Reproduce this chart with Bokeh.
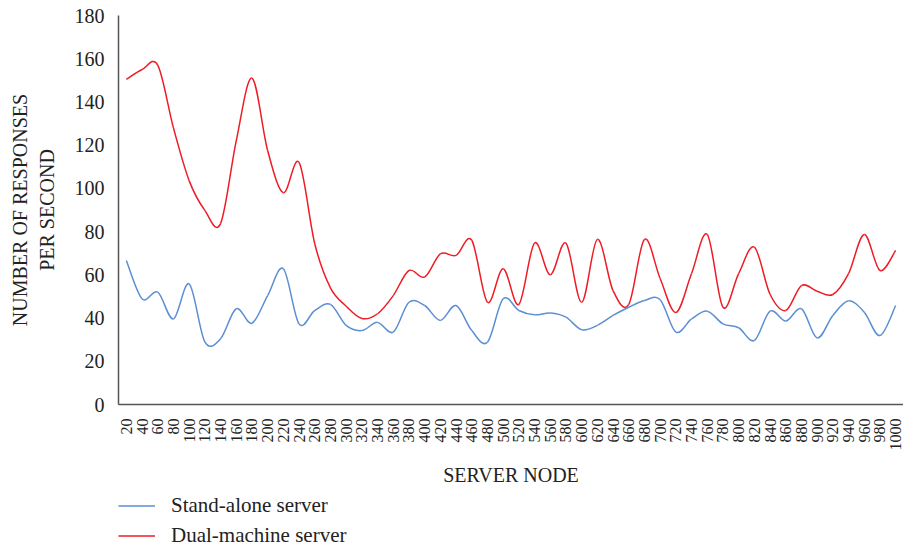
import math
from bokeh.plotting import figure
from bokeh.layouts import column
from bokeh.models import Range1d, FixedTicker, Legend, LegendItem
from bokeh.embed import file_html
from bokeh.resources import INLINE

nodes = list(range(20, 1001, 20))
stand_alone = [66.6, 48.9, 52.0, 39.6, 55.8, 29.0, 30.4, 44.3, 37.6, 50.4,
               62.8, 37.3, 43.5, 46.3, 36.6, 34.2, 38.0, 33.5, 47.3, 45.8,
               38.9, 45.8, 34.2, 28.8, 48.9, 43.5, 41.5, 42.3, 40.4, 34.6,
               36.6, 41.2, 45.0, 48.1, 48.5, 33.5, 39.6, 43.2, 37.3, 35.5,
               29.6, 43.2, 38.6, 44.3, 30.8, 41.2, 48.0, 42.7, 31.9, 45.8]
dual_machine = [150.4, 155.0, 157.0, 128.0, 103.6, 89.8, 83.7, 122.0, 151.0, 117.5,
                98.0, 112.0, 74.4, 54.0, 45.5, 39.8, 42.0, 50.4, 62.0, 59.0,
                69.7, 69.0, 76.0, 47.3, 62.8, 46.3, 74.7, 60.0, 74.7, 47.3,
                76.4, 52.7, 46.3, 76.4, 58.3, 42.6, 60.6, 78.7, 45.0, 60.6,
                72.8, 51.0, 43.5, 55.0, 52.4, 50.9, 60.6, 78.7, 62.0, 71.3]
y_ticks = list(range(0, 181, 20))
series_names = ["Stand-alone server", "Dual-machine server"]

FONT = "Liberation Serif"
BLUE = "#5B8ED3"
RED = "#EE1C25"
TEXT = "#222222"


def smooth_segments(xs, ys):
    n = len(xs)
    d = dict(x0=[], y0=[], x1=[], y1=[], cx0=[], cy0=[], cx1=[], cy1=[])
    for i in range(n - 1):
        xm, ym = (xs[i - 1], ys[i - 1]) if i > 0 else (xs[i], ys[i])
        xp, yp = (xs[i + 2], ys[i + 2]) if i + 2 < n else (xs[i + 1], ys[i + 1])
        d["x0"].append(xs[i]); d["y0"].append(ys[i])
        d["x1"].append(xs[i + 1]); d["y1"].append(ys[i + 1])
        d["cx0"].append(xs[i] + (xs[i + 1] - xm) / 6.0)
        d["cy0"].append(ys[i] + (ys[i + 1] - ym) / 6.0)
        d["cx1"].append(xs[i + 1] - (xp - xs[i]) / 6.0)
        d["cy1"].append(ys[i + 1] - (yp - ys[i]) / 6.0)
    return d


p = figure(width=903, height=490, output_backend="svg", toolbar_location=None,
           x_range=Range1d(10, 1010), y_range=Range1d(0, 180),
           min_border_left=118, min_border_right=0, min_border_top=15,
           min_border_bottom=86)
p.outline_line_color = None
p.grid.visible = False

p.bezier(line_color=BLUE, line_width=1.5, **smooth_segments(nodes, stand_alone))
p.bezier(line_color=RED, line_width=1.5, **smooth_segments(nodes, dual_machine))

p.xaxis.ticker = FixedTicker(ticks=nodes)
p.xaxis.major_label_orientation = math.pi / 2
p.yaxis.ticker = FixedTicker(ticks=y_ticks)

for ax in (p.xaxis[0], p.yaxis[0]):
    ax.axis_line_color = "#555555"
    ax.axis_line_width = 1.5
    ax.major_tick_line_color = None
    ax.minor_tick_line_color = None
    ax.major_label_text_font = FONT
    ax.major_label_text_color = TEXT
    ax.axis_label_text_font = FONT
    ax.axis_label_text_font_style = "normal"
    ax.axis_label_text_color = TEXT

p.xaxis.major_label_text_font_size = "16px"
p.yaxis.major_label_text_font_size = "20px"
p.xaxis.major_label_standoff = 8
p.yaxis.major_label_standoff = 8
p.xaxis.axis_label = "SERVER NODE"
p.yaxis.axis_label = "NUMBER OF RESPONSES\nPER SECOND"
p.xaxis.axis_label_text_font_size = "20px"
p.yaxis.axis_label_text_font_size = "20px"
p.xaxis.axis_label_standoff = 10
p.yaxis.axis_label_standoff = 14

# legend strip below the chart (key lines lie outside this strip's ranges)
lg = figure(width=903, height=58, output_backend="svg", toolbar_location=None,
            x_range=Range1d(0, 1), y_range=Range1d(0, 1),
            min_border=0)
lg.axis.visible = False
lg.grid.visible = False
lg.outline_line_color = None
k_blue = lg.line(x=nodes, y=stand_alone, line_color=BLUE, line_width=1.5)
k_red = lg.line(x=nodes, y=dual_machine, line_color=RED, line_width=1.5)
legend = Legend(items=[LegendItem(label=series_names[0], renderers=[k_blue]),
                       LegendItem(label=series_names[1], renderers=[k_red])],
                location=(0, 0), orientation="vertical")
legend.border_line_color = None
legend.background_fill_alpha = 0
legend.padding = 0
legend.margin = 0
legend.spacing = 5
legend.glyph_width = 37
legend.glyph_height = 17
legend.label_height = 17
legend.label_standoff = 16
legend.label_text_font = FONT
legend.label_text_font_size = "21px"
legend.label_text_color = TEXT
lg.add_layout(legend)

open("out.html", "w").write(file_html(column(p, lg, spacing=0), INLINE))
